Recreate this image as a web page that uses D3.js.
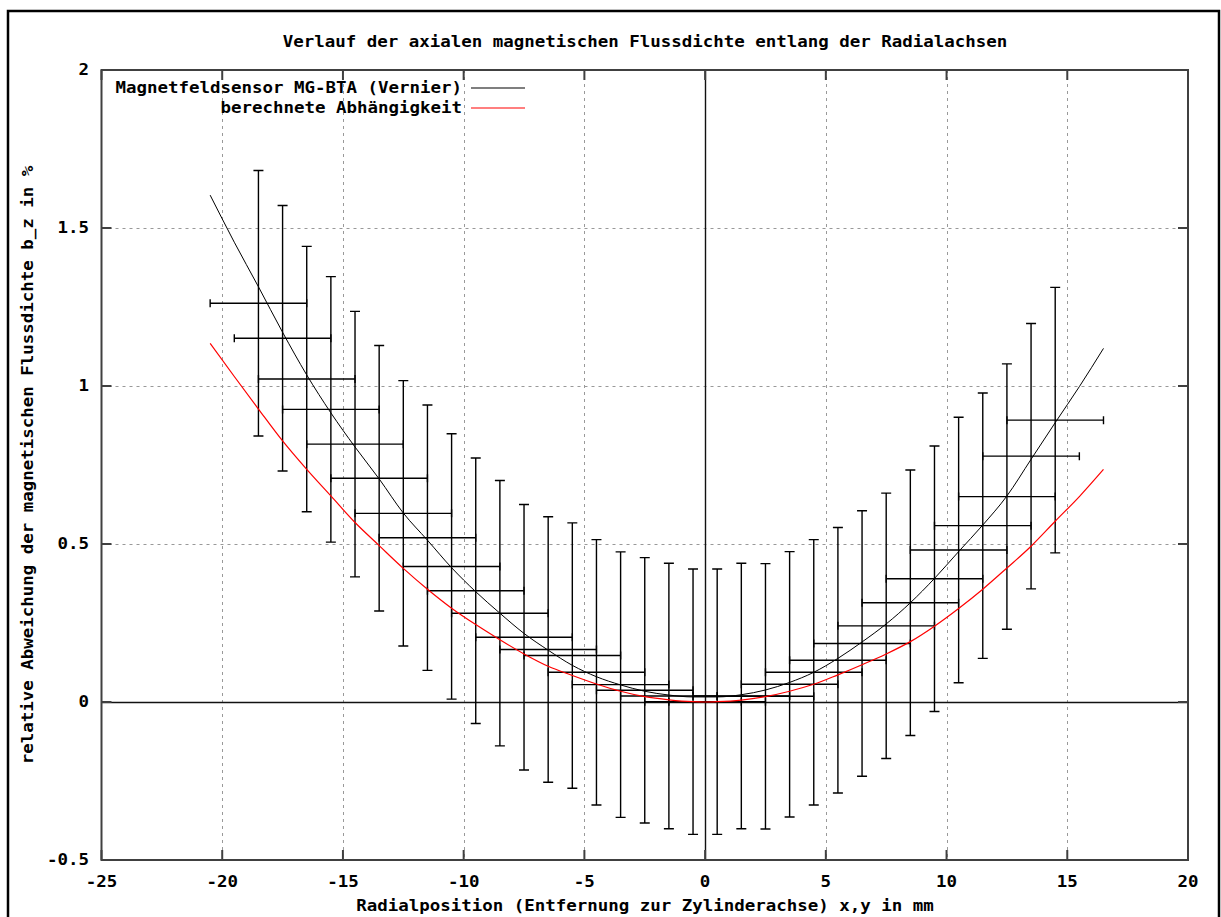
<!DOCTYPE html>
<html><head><meta charset="utf-8">
<script src="https://cdn.jsdelivr.net/npm/d3@7/dist/d3.min.js"></script>
<style>
body{margin:0;background:#fff;}
svg text{font-family:"DejaVu Sans Mono","Liberation Mono",monospace;font-weight:bold;fill:#000;}
</style>
</head><body>
<svg id="chart" width="1221" height="917"></svg>
<script>
// ---- data ----
const titleText = "Verlauf der axialen magnetischen Flussdichte entlang der Radialachsen";
const xLabelText = "Radialposition (Entfernung zur Zylinderachse) x,y in mm";
const yLabelText = "relative Abweichung der magnetischen Flussdichte b_z in %";
const legendLabels = ["Magnetfeldsensor MG-BTA (Vernier)", "berechnete Abhängigkeit"];
const xTicks = [-25, -20, -15, -10, -5, 0, 5, 10, 15, 20];
const yTicks = [-0.5, 0, 0.5, 1, 1.5, 2];

const measX = [-18.5,-17.5,-16.5,-15.5,-14.5,-13.5,-12.5,-11.5,-10.5,-9.5,-8.5,-7.5,-6.5,-5.5,-4.5,-3.5,-2.5,-1.5,-0.5,
               0.5,1.5,2.5,3.5,4.5,5.5,6.5,7.5,8.5,9.5,10.5,11.5,12.5,13.5,14.5];
const measY = [1.262,1.151,1.022,0.926,0.816,0.708,0.597,0.520,0.429,0.352,0.281,0.205,0.166,0.147,0.094,0.055,0.037,0.019,0.001,
               0.001,0.019,0.018,0.056,0.094,0.132,0.185,0.241,0.314,0.390,0.481,0.558,0.650,0.778,0.892];
const measXErr = [2,2,2,2,2,2,2,2,2,2,2,2,2,2,2,2,2,2,2,2,2,2,2,2,2,2,2,2,2,2,2,2,2,2];
const measYErr = [0.42,0.42,0.42,0.42,0.42,0.42,0.42,0.42,0.42,0.42,0.42,0.42,0.42,0.42,0.42,0.42,0.42,0.42,0.42,
                  0.42,0.42,0.42,0.42,0.42,0.42,0.42,0.42,0.42,0.42,0.42,0.42,0.42,0.42,0.42];

const fitX = [-20.5,-19.5,-18.5,-17.5,-16.5,-15.5,-14.5,-13.5,-12.5,-11.5,-10.5,-9.5,-8.5,-7.5,-6.5,-5.5,-4.5,-3.5,-2.5,-1.5,-0.5,
              0.5,1.5,2.5,3.5,4.5,5.5,6.5,7.5,8.5,9.5,10.5,11.5,12.5,13.5,14.5,15.5,16.5];
const fitY = [1.604,1.455,1.314,1.170,1.035,0.915,0.807,0.706,0.598,0.512,0.425,0.349,0.281,0.217,0.164,0.116,0.080,0.054,0.034,0.022,0.016,
              0.016,0.023,0.038,0.062,0.094,0.138,0.190,0.247,0.314,0.391,0.476,0.560,0.652,0.768,0.884,0.998,1.119];

const calcX = [-20.5,-19.5,-18.5,-17.5,-16.5,-15.5,-14.5,-13.5,-12.5,-11.5,-10.5,-9.5,-8.5,-7.5,-6.5,-5.5,-4.5,-3.5,-2.5,-1.5,-0.5,0,
               0.5,1.5,2.5,3.5,4.5,5.5,6.5,7.5,8.5,9.5,10.5,11.5,12.5,13.5,14.5,15.5,16.5];
const calcY = [1.135,1.030,0.927,0.826,0.736,0.652,0.568,0.495,0.423,0.357,0.297,0.245,0.197,0.152,0.113,0.084,0.057,0.034,0.017,0.007,0.001,0.000,
               0.001,0.006,0.017,0.034,0.056,0.086,0.118,0.152,0.191,0.240,0.296,0.357,0.424,0.493,0.572,0.650,0.736];

// ---- layout ----
const svg = d3.select("#chart");
const L = 101.5, R = 1188, T = 70, B = 860;
const x = d3.scaleLinear().domain([-25, 20]).range([L, R]);
const y = d3.scaleLinear().domain([-0.5, 2]).range([B, T]);
const CW = 10.5; // character advance of the pixel font
const FS = 15;

function txt(g, s, px, py, anchor) {
  const w = s.length * CW;
  let sx = px;
  if (anchor === "middle") sx = px - w / 2;
  else if (anchor === "end") sx = px - w;
  return g.append("text").attr("x", sx).attr("y", py)
    .attr("font-size", FS).attr("dominant-baseline", "central")
    .attr("textLength", w).attr("lengthAdjust", "spacingAndGlyphs").text(s);
}

// outer frame
svg.append("rect").attr("x", 8).attr("y", 11).attr("width", 1211).attr("height", 940)
  .attr("fill", "none").attr("stroke", "#000").attr("stroke-width", 2.5);

// grid
const grid = svg.append("g").attr("stroke", "#999").attr("stroke-width", 1).attr("stroke-dasharray", "3,4");
grid.selectAll("line.gx").data(xTicks.filter(d => d > -25 && d < 20 && d !== 0)).join("line")
  .attr("x1", d => Math.round(x(d)) + 0.5).attr("x2", d => Math.round(x(d)) + 0.5).attr("y1", T).attr("y2", B);
grid.selectAll("line.gy").data(yTicks.filter(d => d > -0.5 && d < 2 && d !== 0)).join("line")
  .attr("y1", d => Math.round(y(d)) + 0.5).attr("y2", d => Math.round(y(d)) + 0.5).attr("x1", L).attr("x2", R);

// zero axes
svg.append("line").attr("x1", L).attr("x2", R).attr("y1", Math.round(y(0)) + 0.5).attr("y2", Math.round(y(0)) + 0.5)
  .attr("stroke", "#111").attr("stroke-width", 1.4);
svg.append("line").attr("y1", T).attr("y2", B).attr("x1", Math.round(x(0)) + 0.5).attr("x2", Math.round(x(0)) + 0.5)
  .attr("stroke", "#111").attr("stroke-width", 1.4);

// error bars
const meas = measX.map((d, i) => ({x: d, y: measY[i], xe: measXErr[i], ye: measYErr[i]}));
const eb = svg.append("g").attr("stroke", "#000").attr("stroke-width", 1.4).attr("fill", "none");
const cap = 5, capV = 4;
meas.forEach(p => {
  const cx = x(p.x), cy = y(p.y);
  const yt = y(p.y + p.ye), yb = y(p.y - p.ye);
  const xl = x(p.x - p.xe), xr = x(p.x + p.xe);
  eb.append("path").attr("d",
    `M${cx},${yt}V${yb}M${cx - cap},${yt}H${cx + cap}M${cx - cap},${yb}H${cx + cap}` +
    `M${xl},${cy}H${xr}M${xl},${cy - capV}V${cy + capV}M${xr},${cy - capV}V${cy + capV}`);
});

// curves
const line = d3.line().x(d => x(d[0])).y(d => y(d[1])).curve(d3.curveMonotoneX);
svg.append("path").attr("d", line(fitX.map((d, i) => [d, fitY[i]])))
  .attr("fill", "none").attr("stroke", "#000").attr("stroke-width", 1);
svg.append("path").attr("d", line(calcX.map((d, i) => [d, calcY[i]])))
  .attr("fill", "none").attr("stroke", "#ff0000").attr("stroke-width", 1.2);

// border + ticks
svg.append("rect").attr("x", L).attr("y", T).attr("width", R - L).attr("height", B - T)
  .attr("fill", "none").attr("stroke", "#404040").attr("stroke-width", 2);
const tk = svg.append("g").attr("stroke", "#404040").attr("stroke-width", 2);
xTicks.forEach(d => {
  const px = x(d);
  tk.append("line").attr("x1", px).attr("x2", px).attr("y1", B).attr("y2", B - 10);
  tk.append("line").attr("x1", px).attr("x2", px).attr("y1", T).attr("y2", T + 10);
});
yTicks.forEach(d => {
  const py = y(d);
  tk.append("line").attr("y1", py).attr("y2", py).attr("x1", L).attr("x2", L + 10);
  tk.append("line").attr("y1", py).attr("y2", py).attr("x1", R).attr("x2", R - 10);
});

// tick labels
const lab = svg.append("g");
xTicks.forEach(d => txt(lab, String(d), x(d), 882, "middle"));
yTicks.forEach(d => txt(lab, String(d), 89, y(d), "end"));

// titles
txt(svg, titleText, 645, 42, "middle");
txt(svg, xLabelText, 645, 906, "middle");
const yl = svg.append("g").attr("transform", `translate(28,${(T + B) / 2}) rotate(-90)`);
txt(yl, yLabelText, 0, 0, "middle");

// legend
const legY = [88, 108];
const legColors = ["#000", "#ff0000"];
legendLabels.forEach((s, i) => {
  txt(svg, s, 462, legY[i], "end");
  svg.append("line").attr("x1", 471).attr("x2", 525).attr("y1", legY[i]).attr("y2", legY[i])
    .attr("stroke", legColors[i]).attr("stroke-width", 1.2);
});
</script>
</body></html>
